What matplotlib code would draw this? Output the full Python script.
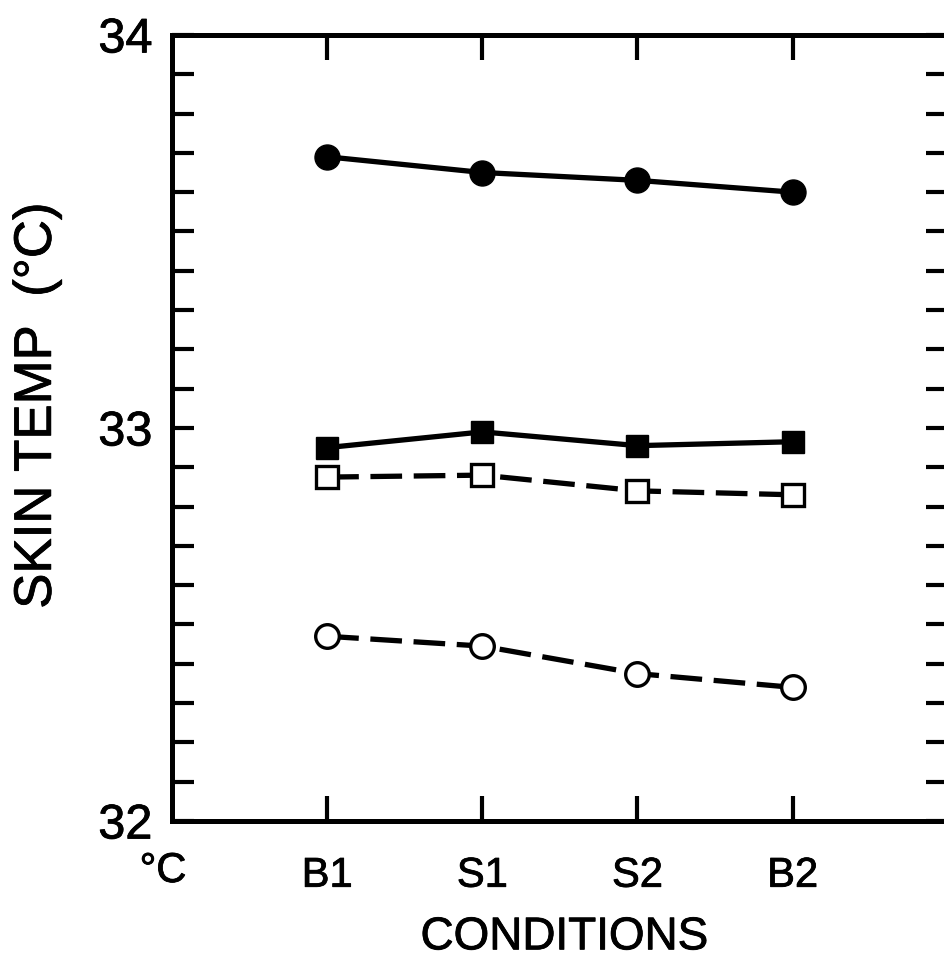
import matplotlib
matplotlib.use("Agg")
import matplotlib.pyplot as plt
import matplotlib.patheffects as pe
from matplotlib.ticker import MultipleLocator

plt.rcParams['font.family'] = ['Liberation Sans', 'DejaVu Sans']

# conditions along the x axis
conditions = ['B1', 'S1', 'S2', 'B2']

# skin temperature (deg C)
filled_circle = [33.69, 33.65, 33.63, 33.60]
filled_square = [32.95, 32.99, 32.955, 32.965]
open_square = [32.875, 32.88, 32.84, 32.83]
open_circle = [32.47, 32.445, 32.375, 32.34]
y_labels = ['32', '33', '34']

x = list(range(len(conditions)))

fig = plt.figure(figsize=(9.45, 9.6), dpi=100)
ax = fig.add_axes([0.182, 0.1448, 0.821, 0.8188])

# slightly thicker text strokes, like the scanned print
heavy = [pe.withStroke(linewidth=0.6, foreground='black')]

lw = 3.8
dash = (6, 2.2)
ax.plot(x, filled_circle, color='black', lw=lw, marker='o', ms=18,
        mfc='black', mec='black')
ax.plot(x, filled_square, color='black', lw=lw, marker='s', ms=16,
        mfc='black', mec='black')
ax.plot(x, open_square, color='black', lw=lw, ls=(0, dash), marker='s', ms=16,
        mfc='white', mec='black', mew=2.4)
ax.plot(x, open_circle, color='black', lw=lw, ls=(0, dash), marker='o', ms=17,
        mfc='white', mec='black', mew=2.4)

ax.set_xlim(-1.0, 4.0)
ax.set_ylim(32, 34)

for s in ax.spines.values():
    s.set_linewidth(3.6)

ax.set_xticks(x)
ax.set_xticklabels(conditions, fontsize=30, path_effects=heavy)
ax.set_yticks([32, 33, 34])
ax.set_yticklabels(y_labels, fontsize=35, path_effects=heavy)
ax.yaxis.set_minor_locator(MultipleLocator(0.1))

ax.tick_params(axis='x', which='both', direction='in', length=18, width=3,
               top=True, pad=25)
ax.tick_params(axis='y', which='both', direction='in', length=16, width=3,
               right=True, pad=14)

ax.set_xlabel('CONDITIONS', fontsize=33, path_effects=heavy)
ax.xaxis.set_label_coords(0.506, -0.12)
ax.set_ylabel('SKIN TEMP  (°C)', fontsize=38, path_effects=heavy)
ax.yaxis.set_label_coords(-0.142, 0.528)

# unit mark below the y axis
fig.text(163 / 945, 1 - 871 / 960, '°C', fontsize=30, ha='center',
         va='center', path_effects=heavy)

fig.savefig('out.png', dpi=100)
